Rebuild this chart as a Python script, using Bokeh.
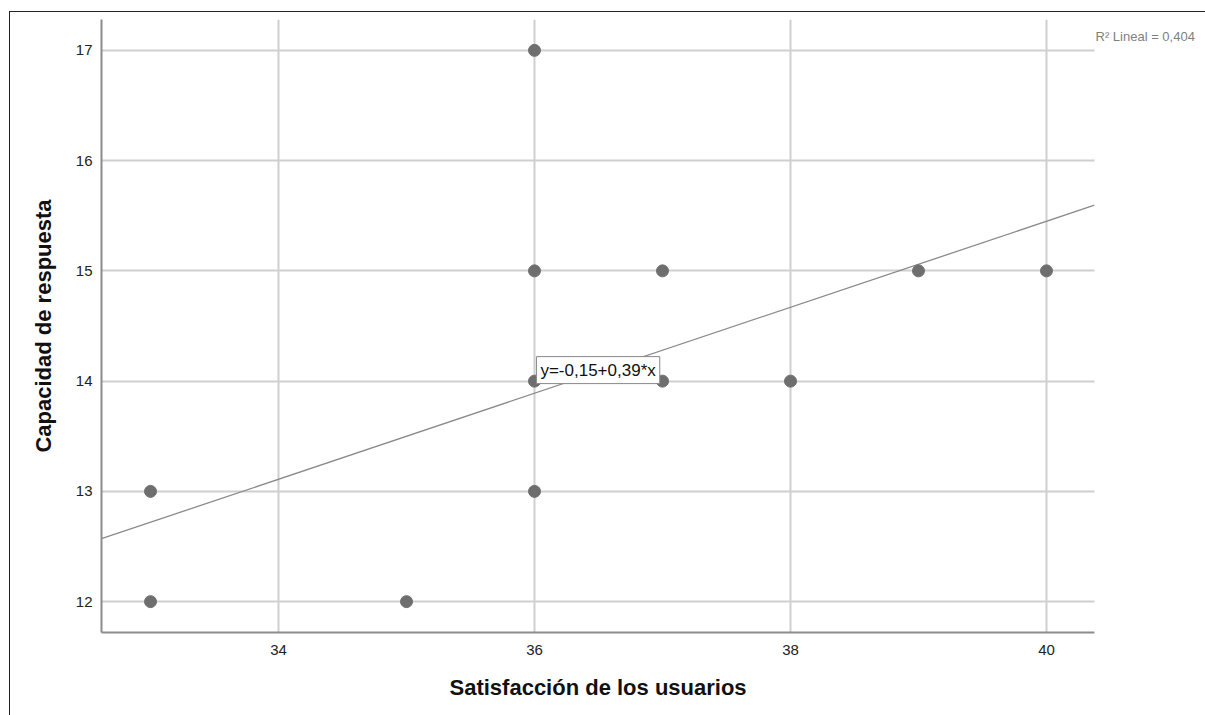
from bokeh.plotting import figure
from bokeh.models import Range1d, Label, FixedTicker, BoxAnnotation, Title
from bokeh.embed import file_html
from bokeh.resources import INLINE
import numpy as np

# Data
satisfaccion = [33, 33, 35, 36, 36, 36, 36, 37, 37, 38, 39, 40]
capacidad = [13, 12, 12, 17, 15, 14, 13, 15, 14, 14, 15, 15]
intercepto = -0.15
pendiente = 0.39
r2 = "0,404"
x_ticks = [34, 36, 38, 40]
y_ticks = [12, 13, 14, 15, 16, 17]
x_titulo = "Satisfacción de los usuarios"
y_titulo = "Capacidad de respuesta"

FONT = "Liberation Sans"

# plotted data extent (axes end here); the frame continues to the right so the
# R² note (drawn in the right margin) is visible
x0, x1 = 32.617, 40.375
x_view_end = 41.25
y0, y1 = 11.72, 17.28

p = figure(width=1196, height=704, output_backend="svg", toolbar_location=None,
           x_range=Range1d(x0, x_view_end), y_range=Range1d(y0, y1),
           min_border_left=91, min_border_right=0, min_border_top=7, min_border_bottom=84,
           margin=(11, 0, 0, 9))
p.styles = {"border-left": "1px solid #222", "border-top": "1px solid #222"}
p.outline_line_color = None
p.background_fill_color = "white"
p.border_fill_color = "white"

for ax in (p.xaxis[0], p.yaxis[0]):
    ax.axis_line_color = "#8c8c8c"
    ax.axis_line_width = 2
    ax.major_tick_line_color = None
    ax.minor_tick_line_color = None
    ax.major_label_text_font = FONT
    ax.major_label_text_font_size = "15px"
    ax.major_label_text_color = "#222"
    ax.axis_label_text_font = FONT
    ax.axis_label_text_font_style = "bold"
    ax.axis_label_text_font_size = "22px"
    ax.axis_label_text_color = "#111"

p.xaxis.bounds = (x0, x1)
p.xaxis.ticker = FixedTicker(ticks=x_ticks)
p.yaxis.ticker = FixedTicker(ticks=y_ticks)
p.yaxis.axis_label = y_titulo
p.xaxis.major_label_standoff = 6
p.yaxis.major_label_standoff = 3
p.yaxis.axis_label_standoff = 17

# x-axis title centred under the data area (the frame extends into the right margin)
xt = Title(text=x_titulo, align="left", offset=348, text_font=FONT, text_font_size="22px",
           text_font_style="bold", text_color="#111", standoff=31)
p.add_layout(xt, "below")

p.xgrid.grid_line_color = "#cfcfcf"
p.ygrid.grid_line_color = "#cfcfcf"
p.xgrid.grid_line_width = 2
p.ygrid.grid_line_width = 2

# hide grid beyond the data area
p.add_layout(BoxAnnotation(left=x1, fill_color="white", fill_alpha=1.0, line_color=None))

# Fit line across the data extent
xs = np.array([x0, x1])
ys = intercepto + pendiente * xs
p.line(xs, ys, line_color="#8a8a8a", line_width=1.3)

p.scatter(satisfaccion, capacidad, size=12, fill_color="#6e6e6e", line_color="#6e6e6e")

eq = Label(x=36.015, y=14.1, text="y=-0,15+0,39*x", text_font=FONT, text_font_size="17px",
           text_color="#111", text_baseline="middle", background_fill_color="white",
           border_line_color="#888", border_line_width=1, padding=4)
p.add_layout(eq)

r2lab = Label(x=40.383, y=17.127, text="R² Lineal = " + r2, text_font=FONT, text_font_size="13px",
              text_color="#808080", text_baseline="alphabetic")
p.add_layout(r2lab)

open("out.html", "w").write(file_html(p, INLINE))
